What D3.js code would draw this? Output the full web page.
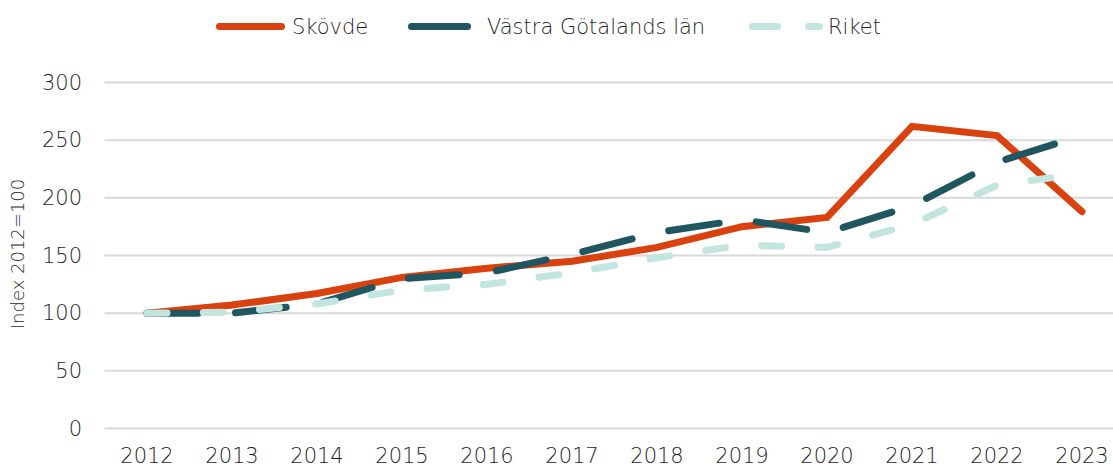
<!DOCTYPE html>
<html>
<head>
  <meta charset="utf-8">
  <style type="text/css">
    body { margin: 0; background: #fff; }
    text { font-family: "DejaVu Sans", sans-serif; font-weight: 200; fill: #1f1f1f; }
  </style>
</head>
<body>
  <svg width="1113" height="468" id="chart"></svg>
  <script src="https://d3js.org/d3.v7.min.js"></script>
  <script>

const years = ['2012', '2013', '2014', '2015', '2016', '2017', '2018', '2019', '2020', '2021', '2022', '2023']
const skovde = [100, 107, 117, 131, 139, 145, 157, 175, 183, 262, 254, 188]
const vastraGotaland = [100, 100, 108, 130, 135, 151, 170, 181, 170, 193, 231, 254]
const riket = [100, 101, 108, 120, 125, 135, 148, 159, 157, 177, 211, 221]
const yTicks = [0, 50, 100, 150, 200, 250, 300]

const series = [
  { name: 'Skövde', values: skovde, color: '#d9410e', dash: null, legendDash: null },
  { name: 'Västra Götalands län', values: vastraGotaland, color: '#1f5660', dash: '51,37.5', legendDash: null },
  { name: 'Riket', values: riket, color: '#c2e5e0', dash: '20,36.3', legendDash: '25,31' }
]

function translate(x, y) { return 'translate(' + x + ',' + y + ')'; }

let svg = d3.select('#chart')

let x = d3.scaleBand().domain(years).range([104.5, 1124.5]).padding(0)
let cx = d => x(d) + x.bandwidth() / 2
let y = d3.scaleLinear().domain([0, 300]).range([428.5, 82.5])

// gridlines
svg.append('g')
  .selectAll('line')
  .data(yTicks)
  .enter()
  .append('line')
    .attr('x1', 104.5)
    .attr('x2', 1113)
    .attr('y1', d => y(d))
    .attr('y2', d => y(d))
    .attr('stroke', '#d9d9d9')
    .attr('stroke-width', 2)

// y axis labels
let yAxis = svg.append('g')
  .attr('transform', translate(82, 0))
  .call(d3.axisLeft(y).tickValues(yTicks).tickSize(0).tickPadding(0))
yAxis.select('.domain').remove()
yAxis.selectAll('text').attr('font-size', 21)

// x axis labels
let xAxis = svg.append('g')
  .attr('transform', translate(0, 448))
  .call(d3.axisBottom(x).tickSize(0).tickPadding(0))
xAxis.select('.domain').remove()
xAxis.selectAll('text')
  .attr('font-size', 21)
  .attr('dy', '0.71em')

svg.selectAll('.tick text').attr('fill', '#1f1f1f').attr('font-family', null)

// y title
svg.append('text')
  .attr('transform', translate(24, 254) + ' rotate(-90)')
  .attr('text-anchor', 'middle')
  .attr('font-size', 18)
  .text('Index 2012=100')

// lines
let line = d3.line()
  .x((d, i) => cx(years[i]))
  .y(d => y(d))

svg.append('g')
  .selectAll('path')
  .data(series)
  .enter()
  .append('path')
    .attr('d', d => line(d.values))
    .attr('fill', 'none')
    .attr('stroke', d => d.color)
    .attr('stroke-width', 7)
    .attr('stroke-linecap', 'round')
    .attr('stroke-linejoin', 'miter')
    .attr('stroke-dasharray', d => d.dash)

// legend
const legendX = [219.5, 411.5, 752.5]
const legendLen = [62, 56, 67]
const legendTextX = [292, 487, 828]

let legend = svg.append('g')
  .selectAll('g')
  .data(series)
  .enter()
  .append('g')
    .attr('transform', (d, i) => translate(legendX[i], 26.5))

legend.append('line')
  .attr('x1', 0)
  .attr('x2', (d, i) => legendLen[i])
  .attr('stroke', d => d.color)
  .attr('stroke-width', 7)
  .attr('stroke-linecap', 'round')
  .attr('stroke-dasharray', d => d.legendDash)

legend.append('text')
  .attr('x', (d, i) => legendTextX[i] - legendX[i])
  .attr('dy', '0.35em')
  .attr('font-size', 21)
  .text(d => d.name)

  </script>
</body>
</html>
